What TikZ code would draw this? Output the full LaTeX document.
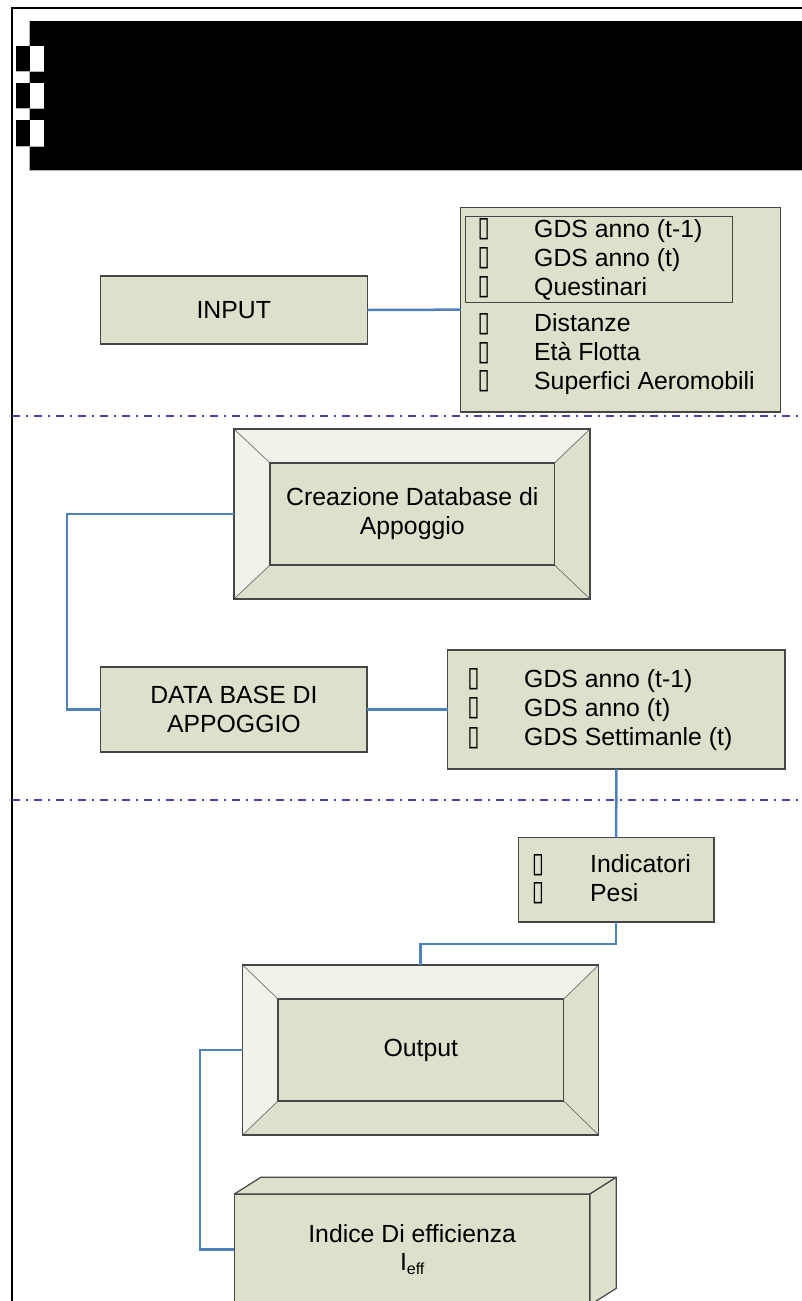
\documentclass[tikz,border=0pt]{standalone}
\usepackage{fontspec}
\setmainfont{Liberation Sans}
\newfontfamily\dejavu{DejaVu Sans}
\usetikzlibrary{calc}
\definecolor{boxfill}{RGB}{221,224,203}
\definecolor{lightface}{RGB}{241,242,234}
\definecolor{bordc}{RGB}{70,70,70}
\definecolor{diagc}{RGB}{110,110,110}
\definecolor{connc}{RGB}{79,129,189}
\definecolor{sepc}{RGB}{68,68,165}
\newcommand\mainfs{\fontsize{24.8}{29}\selectfont}
\newcommand\bulfs{\dejavu\fontsize{28}{28}\selectfont}
\newcommand\tofu{\scalebox{0.8}[1]{▯}}
\begin{document}
\begin{tikzpicture}[x=1pt,y={(0pt,-1pt)},
  box/.style={draw=bordc, line width=1.2pt, fill=boxfill, inner sep=0pt, outer sep=0pt, font=\mainfs, align=center},
  conn/.style={draw=connc, line width=2.5pt},
  sepline/.style={draw=sepc, line width=2pt, dash pattern=on 8pt off 6pt on 2pt off 6pt},
  listtxt/.style={anchor=base west, inner sep=0pt, font=\mainfs},
  bul/.style={anchor=base, inner sep=0pt, font=\bulfs},
  diag/.style={draw=diagc, line width=0.7pt},
  frameb/.style={draw=bordc, line width=1.2pt}]
\useasboundingbox (0,0) rectangle (802,1301);
\begin{scope}
\clip (0,0) rectangle (802,1301);
% page frame
\fill[white] (0,0) rectangle (802,1301);
\draw[line width=2pt] (12,1301) -- (12,8.3) -- (802,8.3);
% header
\fill[black] (29.7,20.7) rectangle (802,170);
\draw[gray!60, line width=0.6pt] (29.7,20.7) -- (29.7,170) -- (802,170);
\foreach \ya/\yb in {46/71, 83/108, 120/146} {
  \fill[black] (16.4,\ya) rectangle (29.7,\yb);
  \fill[white] (29.7,\ya) rectangle (43.5,\yb);
  \draw[gray!60, line width=0.6pt] (16.4,\yb) -- (43.5,\yb);
}
% separators
\draw[sepline] (12,415.7) -- (802,415.7);
\draw[sepline] (12,800) -- (802,800);

% INPUT
\node[box, minimum width=267pt, minimum height=68pt] (input) at (233.8,310) {INPUT};
\node[box, minimum width=320pt, minimum height=204.7pt] (inlist) at (620.7,309.65) {};
\node[draw=bordc, line width=1pt, inner sep=0pt, outer sep=0pt, minimum width=267pt, minimum height=86pt] (ingroup) at (598.5,259) {};
\foreach \i/\yb/\t in {1/237.3/{GDS anno (t-1)}, 2/266.3/{GDS anno (t)}, 3/295/{Questinari}, 4/331.7/{Distanze}, 5/360.7/{Età Flotta}, 6/389.5/{Superfici Aeromobili}} {
  \node[bul] (inb\i) at (483.7,\yb-0.6) {\tofu};
  \node[listtxt] (int\i) at (534,\yb) {\t};
}
\draw[conn] (input.east) -- (inlist.west);

% Creazione Database (bevel)
\node[box, minimum width=356pt, minimum height=170pt] (creo) at (412,514) {};
\node[box, minimum width=284.5pt, minimum height=102pt] (crei) at (412.25,514) {Creazione Database di\\Appoggio};
\fill[lightface] (creo.north west) -- (creo.north east) -- (crei.north east) -- (crei.north west) -- cycle;
\fill[lightface] (creo.north west) -- (crei.north west) -- (crei.south west) -- (creo.south west) -- cycle;
\draw[diag] (creo.north west) -- (crei.north west);
\draw[diag] (creo.north east) -- (crei.north east);
\draw[diag] (creo.south west) -- (crei.south west);
\draw[diag] (creo.south east) -- (crei.south east);
\draw[frameb] (creo.north west) rectangle (creo.south east);
\draw[frameb] (crei.north west) rectangle (crei.south east);

% DATA BASE
\node[box, minimum width=266.2pt, minimum height=85pt] (db) at (233.9,709.5) {DATA BASE DI\\APPOGGIO};
\coordinate (j1) at (67,514);
\draw[conn] (creo.west) -- (j1) |- (db.west);

% GDS list
\node[box, minimum width=337.4pt, minimum height=119pt] (gds) at (616.3,709.5) {};
\foreach \i/\yb/\t in {1/687.5/{GDS anno (t-1)}, 2/716.5/{GDS anno (t)}, 3/745.8/{GDS Settimanle (t)}} {
  \node[bul] (gb\i) at (473.6,\yb-0.6) {\tofu};
  \node[listtxt] (gt\i) at (524,\yb) {\t};
}
\draw[conn] (db.east) -- (gds.west);

% Indicatori
\node[box, minimum width=195.6pt, minimum height=84.3pt] (indic) at (616.2,879.85) {};
\foreach \i/\yb/\t in {1/872.7/{Indicatori}, 2/901.3/{Pesi}} {
  \node[bul] (ib\i) at (538,\yb-0.6) {\tofu};
  \node[listtxt] (it\i) at (590,\yb) {\t};
}
\draw[conn] (gds.south) -- (indic.north);

% Output (bevel)
\node[box, minimum width=356pt, minimum height=170pt] (outo) at (420.65,1050) {};
\node[box, minimum width=285.7pt, minimum height=102pt] (outi) at (420.85,1050) {Output};
\fill[lightface] (outo.north west) -- (outo.north east) -- (outi.north east) -- (outi.north west) -- cycle;
\fill[lightface] (outo.north west) -- (outi.north west) -- (outi.south west) -- (outo.south west) -- cycle;
\draw[diag] (outo.north west) -- (outi.north west);
\draw[diag] (outo.north east) -- (outi.north east);
\draw[diag] (outo.south west) -- (outi.south west);
\draw[diag] (outo.south east) -- (outi.south east);
\draw[frameb] (outo.north west) rectangle (outo.south east);
\draw[frameb] (outi.north west) rectangle (outi.south east);
\draw[conn] (indic.south) -- ++(0,22) -| (outo.north);

% Indice (3D box)
\node[box, minimum width=355.6pt, minimum height=111pt] (indf) at (412.2,1249.5) {Indice Di efficienza\\[-1pt]I{\fontsize{16}{16}\selectfont\raisebox{-4pt}{eff}}};
\filldraw[fill=boxfill, draw=bordc, line width=1.2pt, line join=round] (indf.north west) -- ++(26.3,-16.7) -- ($(indf.north east)+(26.3,-16.7)$) -- (indf.north east) -- cycle;
\filldraw[fill=boxfill, draw=bordc, line width=1.2pt, line join=round] (indf.north east) -- ++(26.3,-16.7) -- ($(indf.south east)+(26.3,-16.7)$) -- (indf.south east) -- cycle;
\draw[conn] (outo.west) -- ++(-42.7,0) |- (indf.west);
\end{scope}
\end{tikzpicture}
\end{document}
